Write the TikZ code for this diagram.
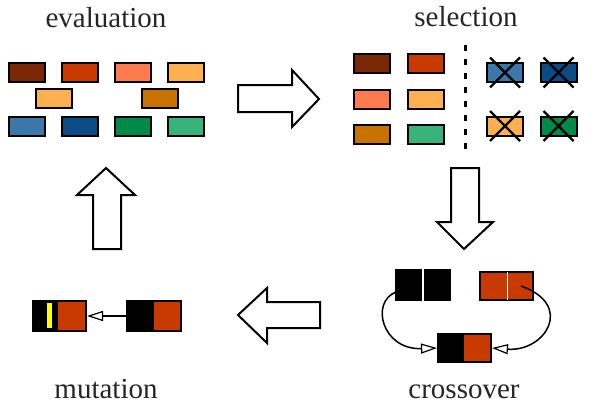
\documentclass[tikz,border=0pt]{standalone}
\usepackage{fontspec}
\setmainfont{Liberation Serif}
\usetikzlibrary{arrows.meta,calc}
\definecolor{dbrown}{HTML}{7A2706}
\definecolor{redor}{HTML}{C93A00}
\definecolor{salmon}{HTML}{FD7B4E}
\definecolor{lorange}{HTML}{FDB04F}
\definecolor{dorange}{HTML}{C87200}
\definecolor{sblue}{HTML}{3A78AA}
\definecolor{dblue}{HTML}{0B4C84}
\definecolor{ggreen}{HTML}{008A4A}
\definecolor{lgreen}{HTML}{38B37A}
\definecolor{ylw}{HTML}{FFFF00}
\tikzset{
  gene/.style={draw=black, line width=2pt, inner sep=0pt, minimum width=36pt, minimum height=19pt},
  blockarrow/.style={draw=black, line width=2pt, fill=white, line join=miter},
  title/.style={font=\fontsize{29}{32}\selectfont, anchor=base, inner sep=0pt, text=black!85},
  chrom/.style={draw=black, line width=2pt, inner sep=0pt, fill=black},
  part/.style={inner sep=0pt},
  cross/.style={line width=2.2pt},
  conn/.style={line width=1.5pt, -{Triangle[open, length=16pt, width=10pt, line width=1.2pt]}},
}
\begin{document}
\begin{tikzpicture}[x=1pt,y=-1pt]
\useasboundingbox (0,0) rectangle (600,418);
% titles
\node[title] (tev) at (106,27) {evaluation};
\node[title] (tsel) at (466,26) {selection};
\node[title] (tmut) at (106,398) {mutation};
\node[title] (tcro) at (464,398) {crossover};
% evaluation population
\node[gene, fill=dbrown]  (e1) at (26.5,72.5) {};
\node[gene, fill=redor]   (e2) at (80,72.5) {};
\node[gene, fill=salmon]  (e3) at (133,72.5) {};
\node[gene, fill=lorange] (e4) at (186,72.5) {};
\node[gene, fill=lorange] (e5) at (53.5,98.5) {};
\node[gene, fill=dorange] (e6) at (160,98.5) {};
\node[gene, fill=sblue]   (e7) at (26.5,126) {};
\node[gene, fill=dblue]   (e8) at (80,126) {};
\node[gene, fill=ggreen]  (e9) at (133,126) {};
\node[gene, fill=lgreen]  (e10) at (186,126) {};
% selection
\node[gene, fill=dbrown]  (s1) at (372,63) {};
\node[gene, fill=redor]   (s2) at (425.5,63) {};
\node[gene, fill=salmon]  (s3) at (372,99) {};
\node[gene, fill=lorange] (s4) at (425.5,99) {};
\node[gene, fill=dorange] (s5) at (372,134) {};
\node[gene, fill=lgreen]  (s6) at (425.5,134) {};
\coordinate (dtop) at (465,45);
\coordinate (dbot) at (465,153);
\draw[line width=3pt, dash pattern=on 6pt off 8pt] (dtop) -- (dbot);
\node[gene, fill=sblue]   (x1) at (505,72.5) {};
\node[gene, fill=dblue]   (x2) at (558.5,72.5) {};
\node[gene, fill=lorange] (x3) at (505,126) {};
\node[gene, fill=ggreen]  (x4) at (558.5,126) {};
\foreach \n in {x1,x2,x3,x4}{
  \draw[cross] ($(\n.center)+(-15,-15)$) -- ($(\n.center)+(15,15)$);
  \draw[cross] ($(\n.center)+(-15,15)$) -- ($(\n.center)+(15,-15)$);
}
% block arrows
\draw[blockarrow] (238,85) -- (292,85) -- (292,70) -- (319,99) -- (292,127) -- (292,112) -- (238,112) -- cycle;
\draw[blockarrow] (451,168) -- (479,168) -- (479,222) -- (493,222) -- (464,249) -- (437,222) -- (451,222) -- cycle;
\draw[blockarrow] (320,302) -- (267,302) -- (267,288) -- (238,315) -- (267,343) -- (267,328) -- (320,328) -- cycle;
\draw[blockarrow] (93,249) -- (93,195) -- (77,195) -- (106,168) -- (135,195) -- (121,195) -- (121,249) -- cycle;
% mutation
\node[chrom, minimum width=53pt, minimum height=30pt] (m1) at (59.5,316) {};
\node[part, fill=redor, minimum width=27pt, minimum height=28pt] (m1r) at (71.5,316) {};
\node[part, draw=black, line width=1pt, fill=ylw, minimum width=6pt, minimum height=26pt] (m1y) at (49.5,315.5) {};
\node[chrom, minimum width=54pt, minimum height=30pt] (m2) at (154,316) {};
\node[part, fill=redor, minimum width=26pt, minimum height=28pt] (m2r) at (167,316) {};
\draw[conn] (m2.west) -- (m1.east);
% crossover
\node[chrom, minimum width=25pt, minimum height=30pt] (c1a) at (408.5,285) {};
\node[chrom, minimum width=25pt, minimum height=30pt] (c1b) at (437.5,285) {};
\node[chrom, fill=redor, minimum width=53pt, minimum height=28pt] (c2) at (506.5,286) {};
\draw[white, line width=1.5pt] ($(c2.north)+(1,1)$) -- ($(c2.south)+(1,-1)$);
\coordinate (c2b) at (521,286);
\node[chrom, minimum width=53pt, minimum height=28pt] (c3) at (464.5,348) {};
\node[part, fill=redor, minimum width=26pt, minimum height=26pt] (c3r) at (477,348) {};
\draw[conn] ($(c1a.west)+(1,7)$) .. controls (370,302) and (382,350) .. (c3.west);
\draw[conn] (c2b) .. controls (575,305) and (545,352) .. (c3.east);
\end{tikzpicture}
\end{document}
